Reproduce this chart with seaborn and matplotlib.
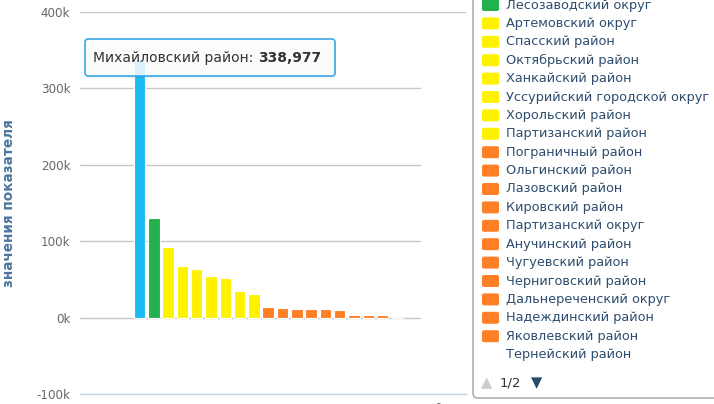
import numpy as np
import pandas as pd
import matplotlib
matplotlib.use("Agg")
import matplotlib.pyplot as plt
import seaborn as sns
from matplotlib.patches import FancyBboxPatch
from matplotlib.ticker import FuncFormatter

# districts, in legend order (first one is scrolled out of view in the legend)
names = [
    "Михайловский район", "Лесозаводский округ", "Артемовский округ",
    "Спасский район", "Октябрьский район", "Ханкайский район",
    "Уссурийский городской округ", "Хорольский район", "Партизанский район",
    "Пограничный район", "Ольгинский район", "Лазовский район",
    "Кировский район", "Партизанский округ", "Анучинский район",
    "Чугуевский район", "Черниговский район", "Дальнереченский округ",
    "Надеждинский район", "Яковлевский район", "Тернейский район",
]
values = [
    338977, 131000, 92900, 67000, 64000, 54800, 52000, 35300, 30700,
    14300, 12700, 10900, 10900, 10900, 9400, 3500, 3500, 3500,
    0, np.nan, np.nan,
]
colors = (["#1cbbf6", "#22b14c"] + ["#fff200"] * 7 + ["#ff7f27"] * 11
          + ["#ffffff"])

y_ticks = [-100000, 0, 100000, 200000, 300000, 400000]
y_title = "значения показателя"
x_tick_label = "0"
page_text = "1/2"

df = pd.DataFrame({"name": names, "value": values})
palette = dict(zip(names, colors))

sns.set_style("white")
plt.rcParams["font.family"] = ["DejaVu Sans"]

fig = plt.figure(figsize=(7.14, 4.04), dpi=100)
ax = fig.add_axes([80 / 714, 10 / 404, 386 / 714, 382 / 404])

sns.barplot(data=df, x="name", y="value", hue="name", order=names,
            palette=palette, legend=False, width=0.8, saturation=1,
            edgecolor="white", linewidth=0.8, ax=ax, zorder=3)

ax.set_xlim(-4.16, 22.83)
ax.set_ylim(-100000, 400000)
ax.set_yticks(y_ticks)
ax.yaxis.set_major_formatter(FuncFormatter(lambda v, p: f"{int(v / 1000)}k"))
ax.tick_params(axis="y", length=0, pad=7, labelsize=8.6, labelcolor="#666666")

# gridlines: top one spans the plot, inner ones stop short
ax.axhline(400000, color="#c8c8c8", lw=1, zorder=0)
for v in y_ticks[1:-1]:
    ax.axhline(v, xmax=(420 - 80) / 386, color="#c8c8c8", lw=1, zorder=0)

for s in ["top", "right", "left"]:
    ax.spines[s].set_visible(False)
ax.spines["bottom"].set_color("#c0d0e0")
ax.spines["bottom"].set_linewidth(1)

ax.set_xticks([20.9], [x_tick_label])
ax.tick_params(axis="x", length=5, color="#c0d0e0", labelsize=8.6,
               labelcolor="#666666", pad=1)
ax.set_xlabel("")
ax.set_ylabel(y_title, fontsize=9.8, fontweight="bold", color="#4d759e")
ax.yaxis.set_label_coords((16 - 80) / 386, 0.5)

# overlay in pixel coordinates for legend and tooltip
ov = fig.add_axes([0, 0, 1, 1], zorder=5)
ov.set_xlim(0, 714)
ov.set_ylim(404, 0)
ov.axis("off")

# legend box (cut at top and right)
ov.add_patch(FancyBboxPatch((473, -30), 300, 428,
                            boxstyle="round,pad=0,rounding_size=5",
                            fc="white", ec="#a0a0a0", lw=1))
row_h = 18.4
y0 = 5 - row_h
for i, (n, c) in enumerate(zip(names, colors)):
    yy = y0 + i * row_h
    ov.add_patch(FancyBboxPatch((482, yy - 6), 17, 12,
                                boxstyle="round,pad=0,rounding_size=2",
                                fc=c, ec="none"))
    ov.text(506, yy, n, fontsize=9.3, color="#2e4d6e", va="center",
            ha="left")

ov.text(487, 383, "▲", fontsize=10.5, color="#cccccc", ha="center", va="center")
ov.text(510, 383, page_text, fontsize=9.5, color="#333333", ha="center",
        va="center")
ov.text(537, 383, "▼", fontsize=10.5, color="#274b6d", ha="center", va="center")

# tooltip
ov.add_patch(FancyBboxPatch((86, 41), 250, 37,
                            boxstyle="round,pad=0,rounding_size=3",
                            fc=(0, 0, 0, 0.06), ec="none"))
ov.add_patch(FancyBboxPatch((85, 39), 250, 37,
                            boxstyle="round,pad=0,rounding_size=3",
                            fc=(1, 1, 1, 0.85), ec="#3aa9e6", lw=1.2))
t1 = ov.text(93, 58, f"{names[0]}: ", fontsize=10, color="#333333",
             va="center", ha="left")
ov.annotate(f"{values[0]:,.0f}", xy=(1, 0), xycoords=t1, fontsize=10,
            fontweight="bold", color="#333333", va="bottom", ha="left")

fig.savefig("out.png", dpi=100)
